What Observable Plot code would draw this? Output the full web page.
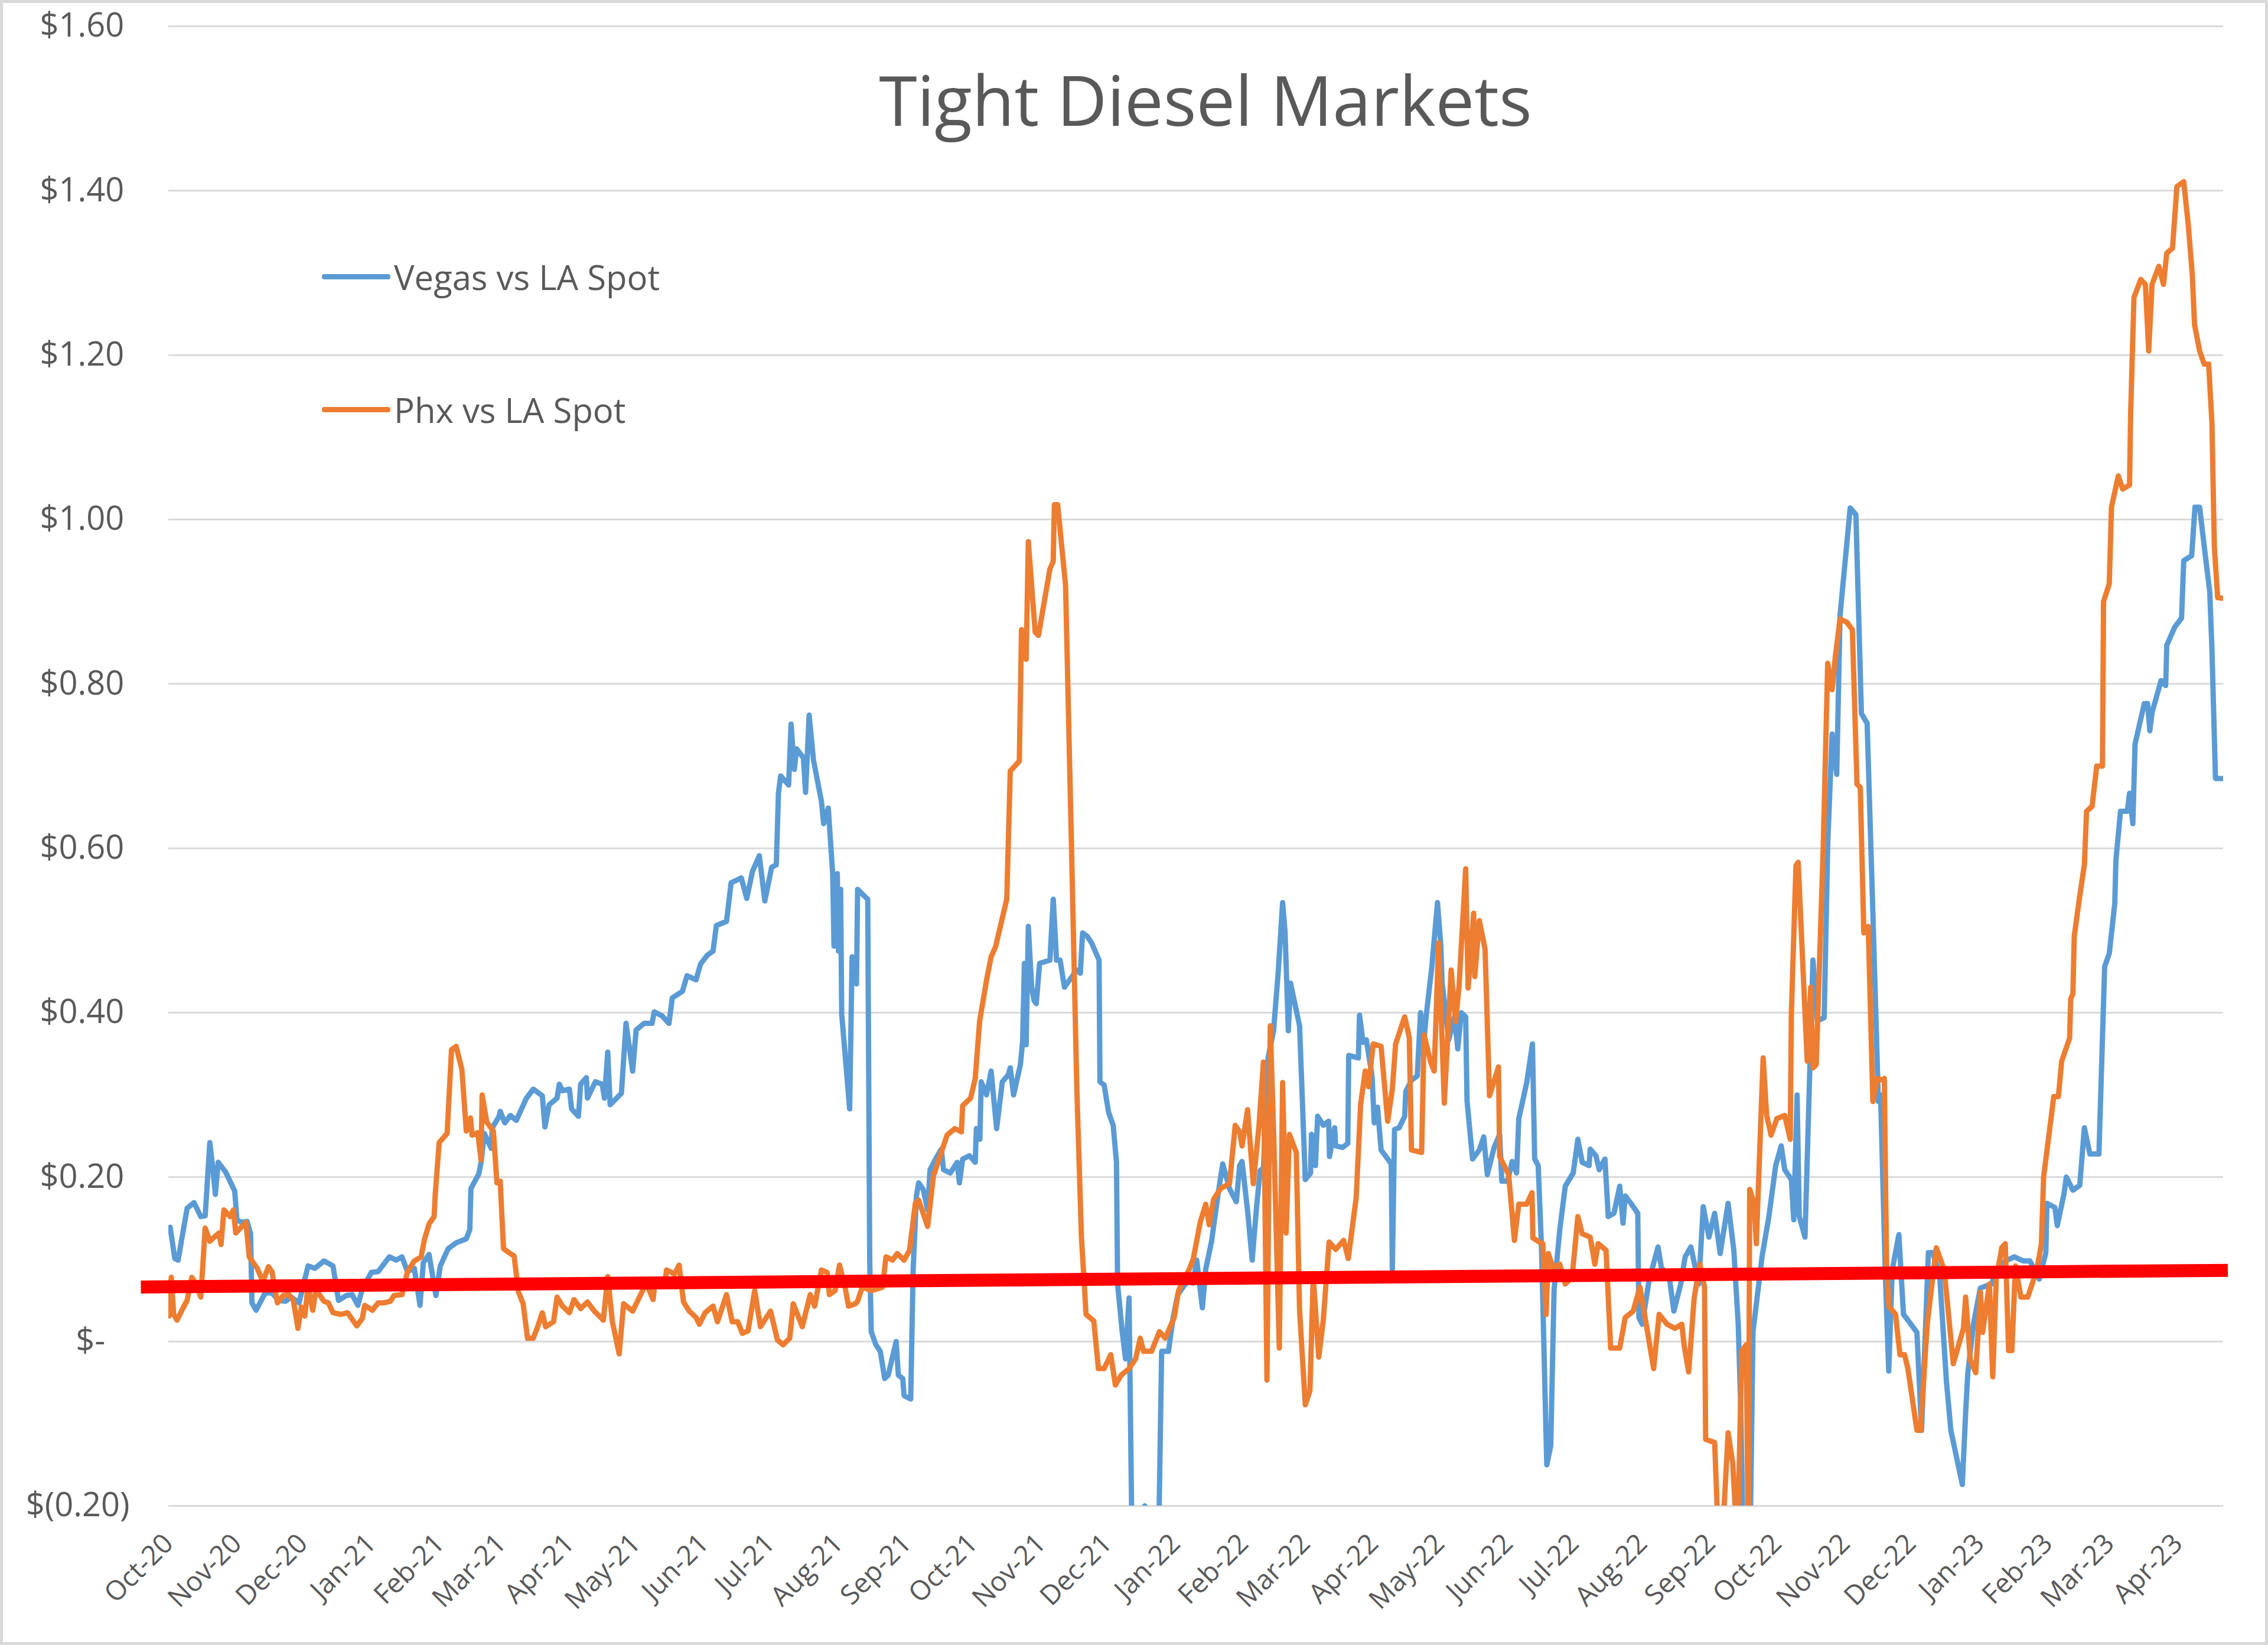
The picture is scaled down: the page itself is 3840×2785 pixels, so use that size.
<!DOCTYPE html>
<html>
<head>
<meta charset="utf-8">
<script src="https://cdn.jsdelivr.net/npm/d3@7"></script>
<script src="https://cdn.jsdelivr.net/npm/@observablehq/plot@0.6"></script>
<style>
  html, body { margin: 0; padding: 0; background: #fff; }
  #wrap { position: relative; width: 3840px; height: 2785px; overflow: hidden; font-family: "Open Sans", "Noto Sans", sans-serif; color: #595959; }
  #chart svg { display: block; }
  .title { position: absolute; left: 1041px; width: 2000px; top: 88px; height: 160px; line-height: 160px; text-align: center; font-size: 117px; color: #595959; }
  .leg { position: absolute; left: 545px; height: 80px; display: flex; align-items: center; font-size: 58px; color: #595959; white-space: nowrap; }
  .sw { width: 116px; height: 9px; border-radius: 4px; margin-right: 6px; }
  .border { position: absolute; left: 0; top: 0; width: 3840px; height: 2785px; box-sizing: border-box; border: 5px solid #d9d9d9; pointer-events: none; }
</style>
</head>
<body>
<div id="wrap">
  <div id="chart"></div>
  <div class="title">Tight Diesel Markets</div>
  <div class="leg" style="top:428px"><div class="sw" style="background:#5B9BD5"></div>Vegas vs LA Spot</div>
  <div class="leg" style="top:653px"><div class="sw" style="background:#ED7D31"></div>Phx vs LA Spot</div>
  <div class="border"></div>
</div>
<script>
// Day offsets are counted from this start date (Oct 1, 2020)
const startDate = "2020-10-01";
const endDay = 932.6;

const xTickLabels = ["Oct-20","Nov-20","Dec-20","Jan-21","Feb-21","Mar-21","Apr-21","May-21","Jun-21","Jul-21","Aug-21","Sep-21","Oct-21","Nov-21","Dec-21","Jan-22","Feb-22","Mar-22","Apr-22","May-22","Jun-22","Jul-22","Aug-22","Sep-22","Oct-22","Nov-22","Dec-22","Jan-23","Feb-23","Mar-23","Apr-23"];
const yTicks = [-0.2, 0, 0.2, 0.4, 0.6, 0.8, 1.0, 1.2, 1.4, 1.6];

// Vegas vs LA Spot: [day offset, $ value]
const vegasSeries = [
[0.7,0.139],[2.8,0.101],[4.3,0.099],[8.4,0.162],[11.5,0.169],[14.6,0.152],[16.6,0.153],[18.7,0.242],[20.2,0.207],[21.2,0.179],[22.5,0.218],[25.9,0.206],[30,0.183],[31,0.148],[33,0.145],[35.6,0.146],[37.2,0.131],[37.8,0.047],[39.7,0.038],[43.8,0.059],[46.9,0.059],[50,0.05],[53,0.049],[55.6,0.054],[59.2,0.047],[63.3,0.092],[66.4,0.089],[70.5,0.098],[74.6,0.092],[77.1,0.05],[80.7,0.056],[83.3,0.057],[85.9,0.044],[87.9,0.064],[92,0.084],[95.1,0.085],[100.2,0.103],[103.3,0.099],[105.9,0.103],[108.4,0.085],[111.5,0.089],[114.1,0.044],[115.6,0.096],[118.2,0.106],[121.3,0.056],[123.3,0.092],[126.9,0.113],[130.5,0.12],[135.1,0.125],[136.7,0.136],[137.2,0.186],[140.8,0.204],[141.8,0.218],[143.3,0.253],[146.4,0.235],[146.9,0.26],[150,0.274],[150.5,0.28],[152.6,0.266],[155.1,0.275],[157.8,0.269],
[162.4,0.296],[165.5,0.307],[169.6,0.299],[170.8,0.261],[172.7,0.288],[176.3,0.296],[177.3,0.313],[178.8,0.305],[181.9,0.307],[182.9,0.283],[186,0.274],[187,0.313],[189.6,0.321],[190.1,0.296],[193.7,0.316],[196.8,0.313],[197.8,0.296],[199.3,0.352],[200.4,0.288],[205.5,0.302],[207.6,0.387],[210.6,0.329],[212.2,0.379],[215.8,0.387],[219.4,0.387],[220.4,0.401],[224,0.396],[227.1,0.387],[228.6,0.418],[233.2,0.426],[235.3,0.445],[239.4,0.44],[241.4,0.459],[244.5,0.47],[247.1,0.475],[248.6,0.506],[253.2,0.511],[255.3,0.558],[259.9,0.564],[262.4,0.539],[265,0.572],[268.1,0.591],[270.6,0.536],[273.7,0.577],[275.8,0.58],[276.8,0.668],[277.8,0.688],[281.4,0.677],[282.5,0.751],[284,0.696],[285,0.721],[288.1,0.71],[289.1,0.668],[290.7,0.762],[292.7,0.707],[296.3,0.657],[297.3,0.63],[299.4,0.649],[301.4,0.569],[302,0.481],[303.5,0.569],[304,0.475],[305,0.55],[305.5,0.398],[309.1,0.283],[310.2,0.468],[312.2,0.435],[312.7,0.55],[317.3,0.538],[318.2,0.1],
[318.9,0.012],[321,-0.004],[323,-0.012],[325,-0.045],[326.6,-0.041],[330.2,0.0],[331.2,-0.041],[333.2,-0.045],[333.8,-0.066],[336.8,-0.07],[337.9,0.086],[339.4,0.177],[340.4,0.193],[342.5,0.185],[344.5,0.16],[345.6,0.209],[348.1,0.222],[350.7,0.234],[351.7,0.209],[354.8,0.205],[357.9,0.218],[358.9,0.193],[360.4,0.222],[363.5,0.226],[366.1,0.218],[366.6,0.259],[368.2,0.246],[368.8,0.316],[371.2,0.3],[373.3,0.329],[375.8,0.259],[378.4,0.316],[381,0.324],[382,0.333],[383.5,0.3],[386.6,0.337],[387.6,0.365],[388.4,0.46],[389.2,0.361],[390.2,0.505],[391.7,0.431],[392.8,0.415],[393.8,0.411],[395.3,0.46],[400,0.464],[401.5,0.538],[403,0.464],[404.6,0.464],[406.6,0.431],[408.7,0.439],[412.2,0.452],[413.8,0.448],[414.8,0.497],[416.9,0.493],[418.9,0.485],[422.3,0.464],[422.7,0.316],[424.6,0.312],[426.6,0.279],[428.7,0.263],[430.2,0.218],[430.7,0.07],[432.8,0.012],[434.3,-0.021],[435.9,0.053],[437.5,-0.3],[441,-0.35],[443,-0.2],[445,-0.35],[449,-0.3],[450.7,-0.012],[453.8,-0.012],[455.9,0.029],[458,0.057],[462.5,0.074],[465.1,0.071],[466.6,0.099],[469.2,0.041],
[470.7,0.088],[473.3,0.121],[476.4,0.181],[478.4,0.216],[481.5,0.186],[484.6,0.17],[486.1,0.214],[487.2,0.219],[489.7,0.159],[491.8,0.099],[493.8,0.164],[495.4,0.208],[496.9,0.211],[499,0.345],[501.5,0.378],[503.6,0.449],[505.6,0.534],[506.7,0.499],[508.2,0.378],[509.2,0.436],[513.3,0.384],[515.9,0.197],[518.3,0.205],[518.7,0.252],[520.5,0.214],[521.5,0.274],[524.1,0.263],[526.5,0.268],[526.9,0.225],[529.2,0.26],[529.7,0.238],[532.8,0.236],[535.2,0.241],[535.6,0.348],[540,0.345],[540.5,0.397],[542.1,0.364],[543.6,0.367],[546.2,0.323],[547.2,0.266],[548.7,0.285],[550.3,0.233],[553.3,0.222],[554.9,0.216],[555.4,0.088],[556.4,0.258],[558.5,0.26],[561,0.274],[561.5,0.304],[564.1,0.318],[566.7,0.323],[568.2,0.4],[569.8,0.367],[570.8,0.397],[573.3,0.455],[575.9,0.534],[577.4,0.482],[578,0.436],[581,0.367],[583.6,0.395],[585.1,0.356],[586.7,0.4],[588.7,0.395],[589.3,0.293],[591.8,0.222],[594.9,0.233],[596.9,0.249],[598.5,0.203],[601.6,0.236],[604.1,0.252],[605.1,0.195],[607.7,0.195],[609.8,0.219],[611.8,0.205],[612.8,0.271],[616.4,0.315],[619,0.362],[620,0.222],[621.6,0.214],[623.1,0.115],
[625.5,-0.15],[627.3,-0.127],[628.8,0.062],[631.4,0.136],[633.9,0.189],[637.5,0.205],[639.6,0.246],[641.6,0.218],[644.7,0.214],[645.2,0.234],[647.8,0.226],[649.3,0.209],[651.9,0.222],[653.4,0.152],[656,0.156],[658.6,0.189],[660.1,0.144],[661.1,0.177],[663.7,0.168],[666.8,0.156],[667.3,0.029],[668.8,0.021],[671.9,0.074],[676,0.115],[677.5,0.09],[681.1,0.078],[683.2,0.037],[686.3,0.07],[688.3,0.103],[690.9,0.115],[694.5,0.07],[696.5,0.164],[699.1,0.127],[701.7,0.156],[704.2,0.107],[707.8,0.168],[710.4,0.111],[712.4,0.021],[713.5,-0.078],[715,-0.3],[717.5,-0.3],[719.1,0.012],[723.2,0.103],[726.3,0.152],[729.4,0.214],[731.9,0.238],[733.5,0.209],[736.5,0.197],[737.6,0.148],[739.1,0.3],[740.1,0.152],[742.7,0.127],[744.8,0.324],[746.3,0.464],[748.3,0.39],[751.4,0.394],[753,0.604],[755,0.739],[757.1,0.69],[758.6,0.883],[763.2,1.014],[765.8,1.006],[768.3,0.764],[770.9,0.752],[773.5,0.522],[776,0.292],[777,0.3],[779.2,0.078],[780.7,-0.036],[782.3,0.087],[785.3,0.13],[787.4,0.033],
[790.5,0.022],[793.5,0.011],[795.6,-0.108],[798.7,0.108],[800.7,0.108],[803.8,0.081],[806.9,-0.049],[808.9,-0.108],[811.5,-0.141],[814.1,-0.174],[815.6,-0.087],[816.6,-0.038],[819.2,0.022],[822.3,0.065],[827.4,0.07],[829.5,0.087],[833.6,0.098],[837.7,0.103],[841.8,0.098],[844.8,0.098],[849,0.076],[852,0.108],[852.5,0.168],[856.1,0.163],[857.2,0.141],[860.2,0.179],[861.3,0.2],[864.3,0.184],[867.4,0.19],[869.5,0.26],[872,0.228],[876.1,0.228],[878.7,0.456],[880.8,0.472],[883.3,0.533],[883.8,0.585],[885.9,0.645],[889,0.645],[890,0.667],[891.5,0.63],[892.5,0.727],[896.7,0.776],[898.2,0.776],[899.2,0.743],[900.2,0.765],[904.3,0.804],[906.4,0.798],[906.9,0.847],[910.5,0.869],[913.6,0.88],[914.6,0.95],[918.2,0.956],[919.7,1.015],[921.8,1.015],[924.4,0.956],[926.4,0.912],[927.4,0.842],[929,0.685],[932.6,0.685]
];

// Phx vs LA Spot: [day offset, $ value]
const phxSeries = [
[0.2,0.031],[1.2,0.078],[2.3,0.033],[3.8,0.026],[6.4,0.04],[8.4,0.05],[10.5,0.078],[12.5,0.07],[14.6,0.054],[16.6,0.138],[18.7,0.122],[22.8,0.132],[23.8,0.118],[25.1,0.16],[27.9,0.152],[29.4,0.16],[30.5,0.132],[33,0.139],[35.1,0.145],[36.6,0.103],[40.2,0.089],[42.8,0.073],[45.3,0.091],[46.9,0.085],[49.4,0.047],[52,0.056],[54.6,0.057],[56.6,0.05],[58.7,0.016],[60.2,0.042],[61.8,0.031],[63.3,0.068],[65.4,0.038],[66.9,0.063],[70.5,0.049],[72.5,0.047],[74.6,0.035],[78.2,0.033],[81.2,0.035],[85.4,0.019],[87.9,0.028],[89,0.044],[92.5,0.038],[95.1,0.047],[97.7,0.047],[100.7,0.049],[102.3,0.056],[105.9,0.057],[108.4,0.085],[111.5,0.098],[114.6,0.103],[116.1,0.124],[118.2,0.143],[120.5,0.152],[121,0.179],[122.8,0.242],[126.4,0.253],[128.4,0.355],[130.5,0.359],[133.1,0.331],[135.1,0.256],[137,0.272],[137.7,0.251],[140.3,0.254],[141.8,0.221],[142.3,0.3],[144.4,0.267],[147.4,0.256],[149,0.193],[150.5,0.195],[152,0.113],[155.6,0.106],[156.8,0.104],[158.8,0.06],[160.9,0.046],
[162.9,0.004],[165.5,0.004],[167.5,0.018],[169.6,0.035],[171.1,0.018],[174.7,0.024],[176.3,0.054],[178.8,0.043],[181.9,0.035],[184,0.051],[187,0.04],[190.1,0.048],[193.2,0.037],[197.3,0.026],[199.3,0.079],[201.4,0.024],[204.5,-0.015],[206.5,0.046],[210.6,0.037],[213.7,0.054],[216.8,0.071],[219.9,0.051],[220.9,0.076],[225,0.068],[226,0.087],[229.6,0.082],[231.7,0.093],[233.7,0.048],[236.3,0.037],[239.4,0.029],[240.9,0.021],[243.5,0.035],[247.1,0.043],[249.1,0.024],[253.2,0.057],[255.8,0.024],[258.3,0.024],[260.4,0.01],[263,0.013],[266,0.062],[268.6,0.018],[273.2,0.037],[276.3,0.002],[278.9,-0.004],[281.9,0.004],[283.5,0.046],[287.6,0.018],[291.2,0.057],[293.2,0.043],[296.3,0.087],[298.9,0.084],[299.9,0.057],[302.5,0.062],[304.5,0.093],[307.1,0.065],[308.6,0.043],[311.7,0.046],[312.7,0.049],[314.8,0.066],[318.9,0.062],[324,0.066],
[325.6,0.103],[328.6,0.099],[330.7,0.107],[333.8,0.099],[336.3,0.111],[338.9,0.168],[340.4,0.172],[344.5,0.14],[347.1,0.201],[350.2,0.226],[353.3,0.251],[356.8,0.259],[359.8,0.255],[360.4,0.287],[364,0.296],[366.1,0.32],[368.1,0.39],[371.2,0.439],[373.3,0.468],[375.3,0.48],[380.4,0.538],[381.5,0.645],[382,0.694],[386.1,0.706],[387.1,0.866],[389.2,0.83],[390.2,0.973],[393.3,0.863],[394.8,0.859],[400,0.94],[401.5,0.949],[402,1.018],[403.5,1.018],[407.1,0.92],[409.7,0.612],[412.2,0.308],[414.3,0.127],[416.4,0.033],[419.9,0.025],[422,-0.033],[424.6,-0.033],[427.6,-0.016],[429.7,-0.053],[432.3,-0.041],[435.9,-0.033],[438.9,-0.021],[441,0.004],[442.5,-0.012],[446.1,-0.012],[449.7,0.012],[452.3,0.004],[456.4,0.029],[458.4,0.062],[463.6,0.09],[465.1,0.101],[468.2,0.145],
[470.7,0.167],[472.3,0.142],[474.3,0.173],[477.4,0.186],[481.5,0.192],[484.1,0.263],[486.1,0.255],[487.2,0.238],[489.7,0.282],[492.3,0.192],[494.9,0.263],[496.9,0.34],[498.5,-0.047],[500,0.384],[501.5,0.258],[504.1,-0.008],[505.6,0.315],[507.2,0.132],[508.7,0.252],[511.8,0.23],[513.3,0.038],[515.9,-0.077],[518,-0.06],[519.5,0.079],[522,-0.019],[524.1,0.027],[526.7,0.121],[529.7,0.112],[533.3,0.123],[535.4,0.101],[539,0.175],[541,0.288],[543.1,0.329],[544.6,0.31],[546.7,0.362],[550.3,0.359],[553.3,0.268],[555.4,0.307],[556.9,0.362],[561,0.395],[563.1,0.37],[564.1,0.233],[568.7,0.23],[569.8,0.373],[572.8,0.34],[574.4,0.329],[576.4,0.485],[579,0.29],[582.1,0.452],[584.1,0.389],[585.7,0.433],[588.7,0.575],[589.8,0.43],[592.3,0.521],[592.8,0.444],[594.9,0.512],[597.5,0.477],[599.5,0.299],[603.6,0.334],[604.1,0.225],[608.2,0.203],[610.8,0.123],[612.8,0.167],[616.4,0.167],[618.8,0.181],[619.2,0.126],[622.1,0.121],[623.7,0.119],[625.2,0.033],
[626.2,0.107],[628.3,0.09],[631.4,0.094],[633.9,0.07],[637,0.078],[639.6,0.152],[641.6,0.131],[645.2,0.127],[647.3,0.094],[648.8,0.119],[652.4,0.111],[654.5,-0.008],[658.6,-0.008],[661.1,0.029],[664.7,0.037],[667.8,0.066],[670.4,0.025],[674,-0.033],[676.5,0.033],[680.1,0.021],[683.7,0.016],[686.8,0.021],[687.8,-0.004],[689.9,-0.037],[692.4,0.053],[695,0.094],[697.1,0.066],[697.6,-0.119],[701.7,-0.123],[703.5,-0.25],[705,-0.25],[707.8,-0.111],[709.9,-0.148],[712,-0.25],[714,-0.012],[716,-0.004],[717,-0.25],[717.6,0.185],[719.6,0.168],[720.6,0.119],[723.7,0.345],[725.3,0.275],[727.3,0.251],[729.9,0.271],[733.5,0.275],[736,0.246],[736.5,0.398],[738.6,0.579],[739.6,0.583],[743.7,0.341],[745.3,0.431],[746.3,0.333],[747.8,0.337],[751,0.604],[753,0.825],[755,0.793],[756.5,0.834],[758.6,0.879],[761.7,0.875],[764.2,0.866],[766.3,0.678],[767.8,0.674],[769.4,0.497],[771.4,0.505],[773.5,0.292],[775.5,0.32],[778.1,0.318],[778.7,0.32],[779.7,0.098],
[780.7,0.043],[783.8,0.033],[785.8,-0.016],[787.9,-0.016],[789.4,-0.033],[793.5,-0.108],[795.1,-0.108],[798.2,0.022],[802.3,0.114],[805.9,0.087],[810,-0.027],[814.6,0.016],[815.6,0.054],[817.7,-0.022],[820.2,-0.038],[822.3,0.06],[823.3,0.011],[826.4,0.07],[827.9,-0.043],[829.5,0.076],[832,0.114],[833.6,0.119],[835.1,-0.011],[836.6,-0.011],[838.2,0.092],[840.7,0.054],[843.8,0.054],[847.9,0.087],[850,0.119],[851,0.2],[854.1,0.266],[855.6,0.298],[857.7,0.298],[859.2,0.341],[862.8,0.369],[863.3,0.417],[864.3,0.423],[864.9,0.493],[867.4,0.542],[869.5,0.58],[870.5,0.645],[873,0.651],[875.1,0.7],[877.7,0.7],[878.2,0.9],[880.8,0.922],[881.8,1.015],[884.9,1.053],[886.9,1.037],[890,1.042],[890.5,1.129],[892,1.27],[895.1,1.292],[897.2,1.286],[898.7,1.205],[900.2,1.286],[903.3,1.308],[905.4,1.286],[906.9,1.324],[909.5,1.33],[911.5,1.405],[914.6,1.411],[916.7,1.357],[918.5,1.297],[919.5,1.237],[921.8,1.205],[923.9,1.189],[925.9,1.189],[927.4,1.117],[928.5,0.966],[930,0.905],[932.6,0.904]
];

// Hand-drawn red reference line: [day offset, $ value]
const trendSeries = [[-12.6, 0.0663], [934.6, 0.0866]];

const start = d3.utcParse("%Y-%m-%d")(startDate);
const toDate = d => new Date(start.getTime() + d * 86400000);
const asRows = s => s.map(([d, v]) => ({date: toDate(d), value: v}));
const monthTicks = xTickLabels.map(d3.utcParse("%b-%y"));

const yFmt = v => {
  if (Math.abs(v) < 1e-9) return "$-\u2007\u2009";
  if (v < 0) return `$(${(-v).toFixed(2)})`;
  return `$${v.toFixed(2)}\u2009`;
};

const chart = Plot.plot({
  width: 3840,
  height: 2785,
  marginLeft: 285,
  marginRight: 76,
  marginTop: 44,
  marginBottom: 236,
  style: {fontFamily: '"Open Sans", "Noto Sans", sans-serif', color: "#595959", background: "transparent", overflow: "visible"},
  x: {type: "utc", domain: [start, toDate(endDay)]},
  y: {domain: [-0.2, 1.6]},
  marks: [
    Plot.gridY(yTicks, {stroke: "#d9d9d9", strokeOpacity: 1, strokeWidth: 3}),
    Plot.axisY(yTicks, {tickFormat: yFmt, tickSize: 0, tickPadding: 66, fontSize: 56, label: null}),
    Plot.axisX(monthTicks, {tickFormat: d3.utcFormat("%b-%y"), tickRotate: -45, tickSize: 0, tickPadding: 56, fontSize: 46, label: null}),
    Plot.line(asRows(vegasSeries), {x: "date", y: "value", stroke: "#5B9BD5", strokeWidth: 9, clip: true}),
    Plot.line(asRows(phxSeries), {x: "date", y: "value", stroke: "#ED7D31", strokeWidth: 9, clip: true}),
    Plot.line(asRows(trendSeries), {x: "date", y: "value", stroke: "#FF0000", strokeWidth: 22, strokeLinecap: "butt"})
  ]
});
document.getElementById("chart").appendChild(chart);
</script>
</body>
</html>
